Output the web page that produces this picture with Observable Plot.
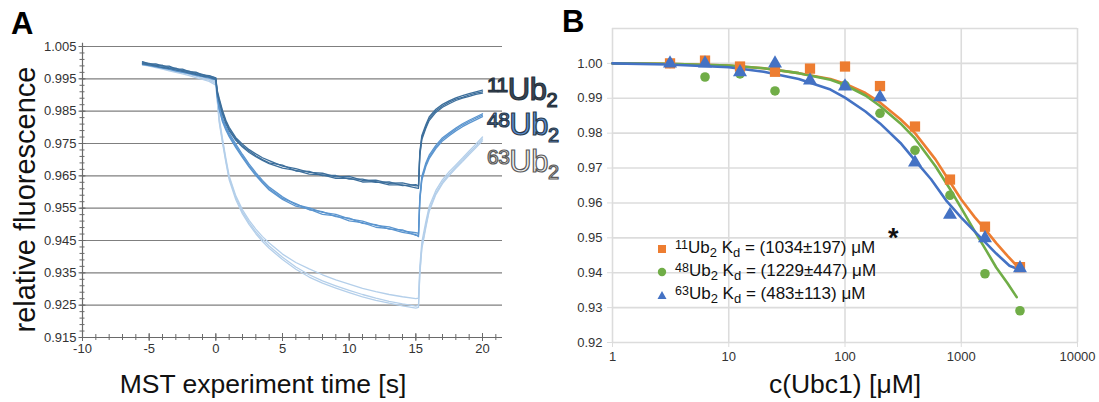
<!DOCTYPE html>
<html><head><meta charset="utf-8">
<script src="https://cdn.jsdelivr.net/npm/d3@7"></script>
<script src="https://cdn.jsdelivr.net/npm/@observablehq/plot@0.6"></script>
<style>
body{margin:0;background:#fff;font-family:"Liberation Sans",Arial,Helvetica,sans-serif;}
#root{position:relative;width:1099px;height:402px;overflow:hidden;background:#fff;}
.abs{position:absolute;white-space:nowrap;line-height:1;}
.sup,.sub{position:relative;}
</style></head><body><div id="root"></div>
<script>
// ---------- Panel A data: MST traces ----------
const timeA = [-5.5,-5,-4.5,-4,-3.5,-3,-2.5,-2,-1.5,-1,-0.5,0,
  0.1,0.25,0.5,0.75,1,1.5,2,2.5,3,3.5,4,
  5,6,7,8,9,10,11,12,13,14,15,
  15.2,15.3,15.45,15.75,16,16.5,17,17.5,18,18.5,19,19.5,20];

const ub11_r1 = [1.0003,0.9996,0.9996,0.9990,0.9989,0.9981,0.9980,0.9972,0.9971,0.9962,0.9960,0.9953,
  0.9915,0.9890,0.9852,0.9822,0.9800,0.9768,0.9748,0.9731,0.9718,0.9706,0.9697,
  0.9680,0.9672,0.9661,0.9658,0.9647,0.9648,0.9636,0.9637,0.9627,0.9628,0.9619,
  0.9620,0.9725,0.9775,0.9808,0.9832,0.9856,0.9871,0.9882,0.9891,0.9898,0.9904,0.9910,0.9915];
const ub11_r2 = [0.9999,0.9998,0.9991,0.9992,0.9984,0.9983,0.9975,0.9974,0.9966,0.9964,0.9956,0.9950,
  0.9910,0.9884,0.9846,0.9818,0.9794,0.9764,0.9742,0.9727,0.9712,0.9700,0.9690,
  0.9683,0.9665,0.9664,0.9651,0.9651,0.9640,0.9640,0.9630,0.9631,0.9620,0.9623,
  0.9618,0.9718,0.9768,0.9802,0.9826,0.9851,0.9866,0.9878,0.9887,0.9893,0.9900,0.9906,0.9910];
const ub11_r3 = [0.9996,0.9993,0.9989,0.9985,0.9982,0.9977,0.9973,0.9968,0.9964,0.9958,0.9955,0.9948,
  0.9905,0.9880,0.9840,0.9812,0.9790,0.9760,0.9739,0.9722,0.9709,0.9698,0.9688,
  0.9674,0.9667,0.9655,0.9653,0.9642,0.9643,0.9631,0.9632,0.9622,0.9622,0.9613,
  0.9611,0.9712,0.9762,0.9797,0.9821,0.9846,0.9862,0.9873,0.9883,0.9890,0.9896,0.9902,0.9906];

const ub48_r1 = [1.0001,0.9995,0.9994,0.9988,0.9987,0.9979,0.9978,0.9970,0.9969,0.9961,0.9959,0.9952,
  0.9905,0.9866,0.9828,0.9803,0.9782,0.9748,0.9716,0.9686,0.9660,0.9636,0.9615,
  0.9585,0.9561,0.9551,0.9537,0.9531,0.9517,0.9510,0.9497,0.9492,0.9480,0.9474,
  0.9472,0.9585,0.9648,0.9690,0.9714,0.9744,0.9768,0.9783,0.9798,0.9811,0.9822,0.9832,0.9842];
const ub48_r2 = [0.9998,0.9996,0.9990,0.9989,0.9982,0.9980,0.9973,0.9971,0.9964,0.9962,0.9955,0.9949,
  0.9900,0.9860,0.9822,0.9797,0.9776,0.9742,0.9710,0.9681,0.9655,0.9631,0.9610,
  0.9580,0.9564,0.9545,0.9539,0.9524,0.9519,0.9503,0.9499,0.9485,0.9483,0.9466,
  0.9467,0.9578,0.9642,0.9684,0.9708,0.9739,0.9763,0.9779,0.9794,0.9807,0.9818,0.9828,0.9838];
const ub48_r3 = [0.9994,0.9991,0.9987,0.9983,0.9979,0.9974,0.9970,0.9966,0.9961,0.9957,0.9952,0.9946,
  0.9896,0.9856,0.9817,0.9792,0.9771,0.9737,0.9706,0.9677,0.9651,0.9628,0.9606,
  0.9577,0.9556,0.9547,0.9531,0.9526,0.9511,0.9505,0.9491,0.9487,0.9475,0.9468,
  0.9462,0.9572,0.9637,0.9679,0.9703,0.9734,0.9758,0.9774,0.9789,0.9802,0.9813,0.9823,0.9833];

const ub63_r1 = [1.0000,0.9995,0.9991,0.9986,0.9982,0.9977,0.9972,0.9967,0.9962,0.9956,0.9950,0.9940,
  0.9895,0.9830,0.9765,0.9705,0.9650,0.9588,0.9545,0.9512,0.9485,0.9462,0.9442,
  0.9408,0.9382,0.9362,0.9344,0.9328,0.9315,0.9302,0.9292,0.9283,0.9276,0.9270,
  0.9272,0.9370,0.9445,0.9508,0.9555,0.9605,0.9638,0.9663,0.9684,0.9705,0.9727,0.9748,0.9770];
const ub63_r2 = [0.9997,0.9992,0.9988,0.9983,0.9979,0.9974,0.9969,0.9964,0.9958,0.9952,0.9946,0.9935,
  0.9890,0.9822,0.9758,0.9698,0.9644,0.9582,0.9538,0.9505,0.9477,0.9454,0.9433,
  0.9398,0.9368,0.9344,0.9325,0.9310,0.9296,0.9283,0.9272,0.9262,0.9254,0.9247,
  0.9249,0.9352,0.9430,0.9496,0.9545,0.9597,0.9631,0.9656,0.9678,0.9699,0.9721,0.9742,0.9764];
const ub63_r3 = [0.9993,0.9989,0.9985,0.9980,0.9975,0.9970,0.9965,0.9960,0.9954,0.9948,0.9942,0.9930,
  0.9885,0.9816,0.9752,0.9692,0.9638,0.9576,0.9532,0.9499,0.9471,0.9447,0.9426,
  0.9391,0.9361,0.9337,0.9318,0.9303,0.9289,0.9276,0.9265,0.9256,0.9248,0.9241,
  0.9243,0.9345,0.9424,0.9490,0.9540,0.9592,0.9626,0.9651,0.9673,0.9694,0.9716,0.9737,0.9758];

const yLabelsA = [0.915,0.925,0.935,0.945,0.955,0.965,0.975,0.985,0.995,1.005];
const yGridA = [0.925,0.935,0.945,0.955,0.965,0.975,0.985,0.995,1.005];
const xLabelsA = [-10,-5,0,5,10,15,20];

// ---------- Panel B data: binding curves ----------
const concB = [3.125,6.25,12.5,25,50,100,200,400,800,1600,3200];
const ub11B = [1.000,1.0008,0.9991,0.9976,0.9985,0.9991,0.9935,0.9819,0.9667,0.9532,0.9416];
const ub48B = [1.000,0.9961,0.9970,0.9921,0.9984,0.9937,0.9857,0.9751,0.9622,0.9397,0.9291];
const ub63B = [1.000,1.0000,0.9975,1.0000,0.9951,0.9934,0.9903,0.9716,0.9566,0.9499,0.9413];

const fitX_11_48 = [1,3,10,20,40,75,100,150,200,300,400,600,800,1000,1300,1600,2000,2500,3000];
const fit11 = [1.000,0.9999,0.9994,0.9986,0.9972,0.9955,0.9942,0.9915,0.9888,0.9840,0.9800,0.9725,0.9660,0.9610,0.9560,0.9525,0.9485,0.9448,0.9420];
const fit48 = [1.000,0.9999,0.9994,0.9986,0.9972,0.9953,0.9938,0.9908,0.9878,0.9828,0.9785,0.9705,0.9640,0.9585,0.9520,0.9470,0.9415,0.9370,0.9330];
const fitX_63 = [1,3,10,20,40,75,100,150,200,300,400,550,750,1000,1400,2000,2600,3200];
const fit63 = [1.000,0.9997,0.9989,0.9976,0.9955,0.9925,0.9902,0.9862,0.9828,0.9772,0.9722,0.9668,0.9605,0.9558,0.9508,0.9455,0.9420,0.9408];

const xTicksB = [1,10,100,1000,10000];
const yTicksB = [0.92,0.93,0.94,0.95,0.96,0.97,0.98,0.99,1.00];
const yGridB = [0.92,0.93,0.94,0.95,0.96,0.97,0.98,0.99,1.00,1.01];

const FONT = '"Liberation Sans", Arial, Helvetica, sans-serif';
const C_DARK = "#3d6f9c", C_MED = "#5b95cf", C_LIGHT = "#b4cfea";
const ORANGE = "#ed7d31", GREEN = "#70ad47", BLUE = "#4472c4";

const root = document.getElementById("root");

// ---------- Panel A ----------
const traceSets = [
  {g: "63", rep: "63a", v: ub63_r1}, {g: "63", rep: "63b", v: ub63_r2}, {g: "63", rep: "63c", v: ub63_r3},
  {g: "48", rep: "48a", v: ub48_r1}, {g: "48", rep: "48b", v: ub48_r2}, {g: "48", rep: "48c", v: ub48_r3},
  {g: "11", rep: "11a", v: ub11_r1}, {g: "11", rep: "11b", v: ub11_r2}, {g: "11", rep: "11c", v: ub11_r3}
];
const tracesA = traceSets.flatMap(s => s.v.map((y, i) => ({t: timeA[i], y, g: s.g, rep: s.rep})));

const plotA = Plot.plot({
  width: 540, height: 402,
  marginLeft: 82, marginRight: 38, marginTop: 46, marginBottom: 65,
  style: {fontFamily: FONT, fontSize: "13px", color: "#333", background: "transparent"},
  x: {domain: [-10, 21.5]},
  y: {domain: [0.915, 1.005]},
  color: {domain: ["11", "48", "63"], range: [C_DARK, C_MED, C_LIGHT]},
  marks: [
    Plot.gridY(yGridA, {stroke: "#7f7f7f", strokeOpacity: 1, strokeWidth: 1.2}),
    Plot.line(tracesA, {x: "t", y: "y", z: "rep", stroke: "g", strokeWidth: 1.3, curve: "linear"}),
    Plot.ruleX([-10], {stroke: "#6a6a6a", strokeWidth: 1.2, y1: 0.915, y2: 1.006}),
    Plot.ruleY([0.915], {stroke: "#6a6a6a", strokeWidth: 1.2, x1: -10, x2: 21.5}),
    Plot.axisY(d3.range(0.915, 1.0055, 0.002), {tickSize: 5, dx: 2.5, tickFormat: () => "", label: null, stroke: "#6a6a6a"}),
    Plot.axisY(yLabelsA, {tickSize: 7, dx: 3.5, tickPadding: 2.5, tickFormat: ".3f", label: null, stroke: "#6a6a6a", fill: "#333"}),
    Plot.axisX(d3.range(-10, 22, 1), {tickSize: 6, dy: -3, tickFormat: () => "", label: null, stroke: "#6a6a6a"}),
    Plot.axisX(xLabelsA, {tickSize: 8, dy: -4, tickPadding: 2, tickFormat: d => String(d), label: null, stroke: "#6a6a6a", fill: "#333"})
  ]
});
plotA.style.position = "absolute"; plotA.style.left = "0px"; plotA.style.top = "0px";
root.appendChild(plotA);

// ---------- Panel B ----------
const toPts = (ys) => ys.map((y, i) => ({c: concB[i], y}));
const toFit = (xs, ys) => ys.map((y, i) => ({c: xs[i], y}));

const plotB = Plot.plot({
  width: 559, height: 402,
  marginLeft: 72, marginRight: 22, marginTop: 28, marginBottom: 60,
  style: {fontFamily: FONT, fontSize: "13px", color: "#333", background: "transparent"},
  x: {type: "log", domain: [1, 10000]},
  y: {domain: [0.92, 1.01]},
  marks: [
    Plot.gridX(xTicksB, {stroke: "#dcdcdc", strokeOpacity: 1, strokeWidth: 1.6}),
    Plot.gridY(yGridB, {stroke: "#dcdcdc", strokeOpacity: 1, strokeWidth: 1.6}),
    Plot.axisX(xTicksB, {tickSize: 5, tickPadding: 4, tickFormat: d => String(d), label: null, stroke: "#dcdcdc", fill: "#333"}),
    Plot.axisY(yTicksB, {tickSize: 5, tickPadding: 5, tickFormat: ".2f", label: null, stroke: "#dcdcdc", fill: "#333"}),
    Plot.line(toFit(fitX_11_48, fit11), {x: "c", y: "y", stroke: ORANGE, strokeWidth: 2.6}),
    Plot.line(toFit(fitX_11_48, fit48), {x: "c", y: "y", stroke: GREEN, strokeWidth: 2.6}),
    Plot.line(toFit(fitX_63, fit63), {x: "c", y: "y", stroke: BLUE, strokeWidth: 2.6}),
    Plot.dot(toPts(ub48B), {x: "c", y: "y", symbol: "circle", fill: GREEN, r: 4.8}),
    Plot.dot(toPts(ub11B), {x: "c", y: "y", symbol: "square", fill: ORANGE, r: 5.8}),
    Plot.dot(toPts(ub63B), {x: "c", y: "y", symbol: "triangle", fill: BLUE, r: 5.2})
  ]
});
plotB.style.position = "absolute"; plotB.style.left = "540px"; plotB.style.top = "0px";
root.appendChild(plotB);

// ---------- Text overlays ----------
function addDiv(html, css) {
  const d = document.createElement("div");
  d.className = "abs";
  d.innerHTML = html;
  Object.assign(d.style, css);
  root.appendChild(d);
  return d;
}
// Panel letters
addDiv("A", {left: "11px", top: "8px", fontSize: "31px", fontWeight: "bold", color: "#000"});
addDiv("B", {left: "562px", top: "6px", fontSize: "31px", fontWeight: "bold", color: "#000"});

// Axis titles
addDiv("relative fluorescence", {left: "-125px", top: "185px", width: "300px", textAlign: "center",
  fontSize: "29px", color: "#111", transform: "rotate(-90deg)", transformOrigin: "50% 50%", lineHeight: "29px"});
addDiv("MST experiment time [s]", {left: "63px", top: "371px", width: "400px", textAlign: "center", fontSize: "26.5px", color: "#111"});
addDiv("c(Ubc1) [μM]", {left: "645px", top: "371px", width: "400px", textAlign: "center", fontSize: "26.5px", color: "#111"});

// Curve labels in panel A
const ubLabel = (sup, fill, strokeC, top) => addDiv(
  `<span class="sup" style="font-size:21px;top:-8px">${sup}</span>Ub<span class="sub" style="font-size:20px;top:7px">2</span>`,
  {left: "487px", top: top + "px", fontSize: "31px", color: fill, webkitTextStroke: "1.2px " + strokeC, letterSpacing: "-0.5px"});
ubLabel("11", "#3a4856", "#26323e", 74);
ubLabel("48", "#5b8fd3", "#2b3b4c", 109);
ubLabel("63", "#f2f2f2", "#5a5a5a", 146);

// Legend in panel B
const legendRows = [
  {sup: "11", kd: "1034±197", top: 239, mark: `<svg width="10" height="10"><rect x="1" y="1" width="8" height="8" fill="${ORANGE}"/></svg>`},
  {sup: "48", kd: "1229±447", top: 262, mark: `<svg width="10" height="10"><circle cx="5" cy="5" r="4.2" fill="${GREEN}"/></svg>`},
  {sup: "63", kd: "483±113", top: 285, mark: `<svg width="10" height="10"><path d="M5,1 L9.5,9 L0.5,9 Z" fill="${BLUE}"/></svg>`}
];
for (const r of legendRows) {
  addDiv(r.mark, {left: "657px", top: (r.top + 5) + "px", lineHeight: "0"});
  addDiv(`<span class="sup" style="font-size:12.5px;top:-4px">${r.sup}</span>Ub<span class="sub" style="font-size:13px;top:4px">2</span> K<span class="sub" style="font-size:13px;top:4px">d</span> = (${r.kd}) μM`,
    {left: "675px", top: r.top + "px", fontSize: "17px", color: "#111"});
}
addDiv("*", {left: "888px", top: "225px", fontSize: "27px", fontWeight: "bold", color: "#111"});
</script></body></html>
